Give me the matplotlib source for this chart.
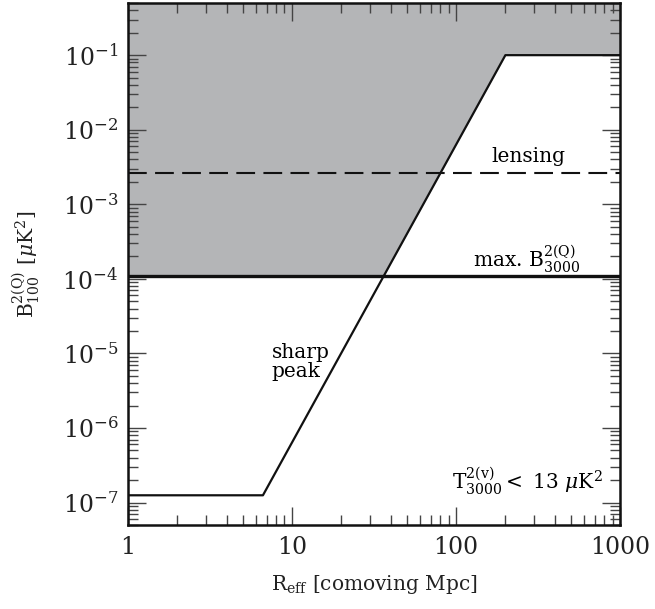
import numpy as np
import matplotlib
matplotlib.use("Agg")
import matplotlib.pyplot as plt
from matplotlib.ticker import LogLocator, FixedLocator, FixedFormatter, NullFormatter, LogFormatterMathtext

plt.rcParams['font.family'] = ['DejaVu Serif']
plt.rcParams['mathtext.fontset'] = 'dejavuserif'

# sharp peak bound, B^2 vs R_eff
r_peak = [1.0, 6.65, 200.0, 1000.0]
b_peak = [1.25e-7, 1.25e-7, 0.1, 0.1]
# horizontal levels
b_max3000 = 1.1e-4
b_lensing = 2.6e-3

xlim = (1, 1000)
ylim = (5e-8, 0.5)
xticks = [1, 10, 100, 1000]
xlabels = ['1', '10', '100', '1000']
yticks = [1e-7, 1e-6, 1e-5, 1e-4, 1e-3, 1e-2, 1e-1]

fig = plt.figure(figsize=(6.55, 6.09), dpi=100)
ax = fig.add_axes([0.1954, 0.138, 0.7512, 0.857])
ax.set_xscale('log')
ax.set_yscale('log')
ax.set_xlim(*xlim)
ax.set_ylim(*ylim)

# excluded region: above both the max B line and the sharp peak curve
lx = np.log10(r_peak[1:3])
ly = np.log10(b_peak[1:3])
x_cross = 10 ** np.interp(np.log10(b_max3000), ly, lx)
fx = [xlim[0], x_cross, r_peak[2], r_peak[3]]
fy = [b_max3000, b_max3000, b_peak[2], b_peak[3]]
ax.fill_between(fx, fy, ylim[1], color='#b4b5b7', lw=0, zorder=1)

ax.plot(r_peak, b_peak, color='#111111', lw=1.6, zorder=3)
ax.axhline(b_max3000, color='#111111', lw=2.4, zorder=3)
ax.axhline(b_lensing, color='#111111', lw=1.5, dashes=(9, 4), zorder=3)

ax.text(275, 4.4e-3, 'lensing', ha='center', va='center', fontsize=14.5)
ax.text(270, 1.85e-4, r'max. B$^{2(\mathrm{Q})}_{3000}$', ha='center', va='center', fontsize=14.5)
ax.text(7.5, 7.7e-6, 'sharp\npeak', ha='left', va='center', multialignment='left',
        fontsize=14.5, linespacing=1.0)
ax.text(790, 1.95e-7, r'T$^{2(\mathrm{v})}_{3000} <$ 13 $\mu$K$^2$', ha='right', va='center', fontsize=14.5)

ax.set_xlabel(r'R$_{\mathrm{eff}}$ [comoving Mpc]', fontsize=14.5, labelpad=10, color='#222222')
ax.set_ylabel(r'B$^{2(\mathrm{Q})}_{100}$ [$\mu$K$^2$]', fontsize=14.5, labelpad=15, color='#222222')

ax.xaxis.set_major_locator(FixedLocator(xticks))
ax.xaxis.set_major_formatter(FixedFormatter(xlabels))
ax.xaxis.set_minor_locator(LogLocator(base=10, subs=np.arange(2, 10)))
ax.xaxis.set_minor_formatter(NullFormatter())
ax.yaxis.set_major_locator(FixedLocator(yticks))
ax.yaxis.set_major_formatter(LogFormatterMathtext())
ax.yaxis.set_minor_locator(LogLocator(base=10, subs=np.arange(2, 10), numticks=20))
ax.yaxis.set_minor_formatter(NullFormatter())

ax.tick_params(which='both', direction='in', top=True, right=True, color='#444444')
ax.tick_params(which='major', length=13, width=1.0, labelsize=17, labelcolor='#222222')
ax.tick_params(axis='x', which='major', pad=8)
ax.tick_params(axis='y', which='major', pad=7)
ax.tick_params(which='minor', length=7, width=1.0)
for s in ax.spines.values():
    s.set_linewidth(1.8)
    s.set_color('#111111')
    s.set_zorder(5)

fig.savefig('out.png', dpi=100)
